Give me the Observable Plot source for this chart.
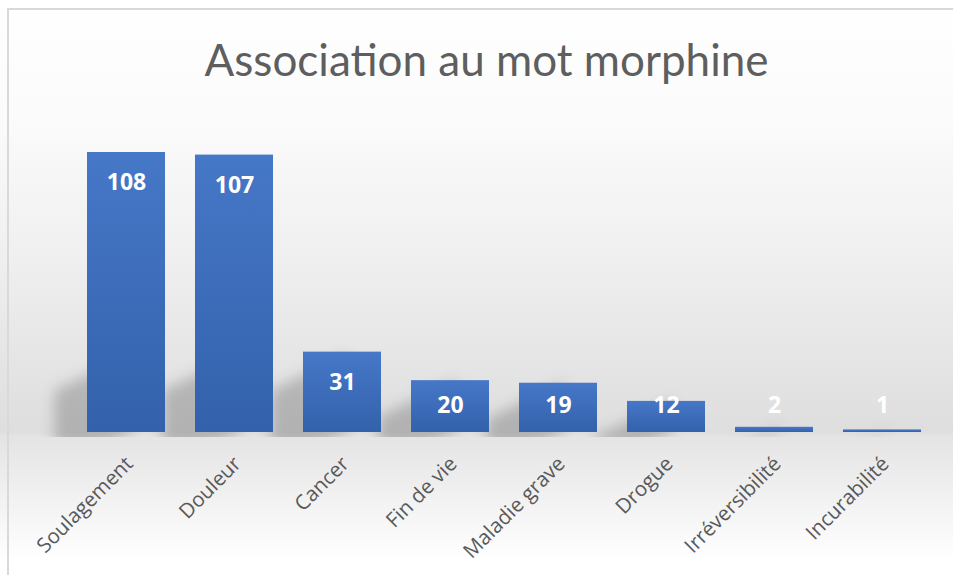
<!DOCTYPE html>
<html>
<head>
<meta charset="utf-8">
<script src="https://cdn.jsdelivr.net/npm/d3@7"></script>
<script src="https://cdn.jsdelivr.net/npm/@observablehq/plot@0.6"></script>
<style>
  html, body { margin: 0; padding: 0; background: #fff; }
  #wrap {
    position: relative; width: 953px; height: 575px; overflow: hidden;
    background: linear-gradient(to bottom, #ffffff 0px, #fbfbfb 120px, #f0f0f0 250px, #e3e3e3 380px, #dedede 432px, #e4e4e4 436px, #f2f2f2 500px, #ffffff 560px);
  }
  .bt { position: absolute; left: 7px; top: 8px; width: 946px; height: 2px; background: #d9d9d9; }
  .bl { position: absolute; left: 7px; top: 8px; width: 2px; height: 567px; background: #d9d9d9; }
  #title {
    position: absolute; left: 10px; width: 953px; top: 33px; text-align: center;
    font-family: Lato, "Open Sans", sans-serif; font-size: 44px; line-height: 52px;
    color: #5e5e5e; font-weight: 400; white-space: nowrap;
  }
  #chart { position: absolute; left: 0; top: 0; }
</style>
</head>
<body>
<div id="wrap">
  <div class="bt"></div>
  <div class="bl"></div>
  <div id="chart"></div>
  <div id="title">Association au mot morphine</div>
</div>
<script>
const categories = ["Soulagement", "Douleur", "Cancer", "Fin de vie", "Maladie grave", "Drogue", "Irréversibilité", "Incurabilité"];
const counts = [108, 107, 31, 20, 19, 12, 2, 1];

const data = categories.map((c, i) => ({category: c, value: counts[i]}));

const chart = Plot.plot({
  width: 953,
  height: 575,
  marginLeft: 70,
  marginRight: 15.5,
  marginTop: 152,
  marginBottom: 143,
  style: {background: "transparent", overflow: "visible"},
  x: {domain: categories, paddingInner: 0.28, paddingOuter: 0.14, axis: null},
  y: {domain: [0, 108], axis: null},
  marks: [
    // soft cast shadows behind the bars (first bar mark)
    Plot.barY(data, {
      x: "category",
      y1: 0,
      y2: d => Math.min(d.value, 30),
      fill: "#000000",
      fillOpacity: 0.2
    }),
    Plot.barY(data, {
      x: "category",
      y: "value",
      fill: "url(#barGrad)"
    }),
    Plot.text(data, {
      x: "category",
      y: d => Math.max(d.value, 22),
      text: d => String(d.value),
      dy: 30.5,
      fill: "#ffffff",
      fontSize: 23,
      fontWeight: "bold",
      fontFamily: "'Open Sans', sans-serif"
    }),
    Plot.text(data, {
      x: "category",
      y: 0,
      text: "category",
      rotate: -45,
      textAnchor: "end",
      dx: 3,
      dy: 28,
      fill: "#595959",
      fontSize: 20.5,
      fontFamily: "'Open Sans', sans-serif"
    })
  ]
});

document.getElementById("chart").appendChild(chart);

const svg = d3.select(chart);
const defs = svg.insert("defs", ":first-child");
const g = defs.append("linearGradient").attr("id", "barGrad").attr("x1", 0).attr("y1", 0).attr("x2", 0).attr("y2", 1);
g.append("stop").attr("offset", "0%").attr("stop-color", "#4678c8");
g.append("stop").attr("offset", "100%").attr("stop-color", "#3361ab");
const f = defs.append("filter").attr("id", "shadowBlur")
  .attr("filterUnits", "userSpaceOnUse").attr("x", 0).attr("y", 0).attr("width", 953).attr("height", 575);
f.append("feGaussianBlur").attr("stdDeviation", 7);

const barGroups = chart.querySelectorAll('g[aria-label="bar"]');
const shadowG = d3.select(barGroups[0]);
let baseY = 0;
shadowG.selectAll("rect").each(function() {
  const r = d3.select(this);
  const x = +r.attr("x"), y = +r.attr("y"), h = +r.attr("height"), w = +r.attr("width");
  const by = y + h, ox = x + w;
  baseY = by;
  r.attr("transform", `translate(${-w * 0.42},0) translate(${ox},${by}) skewY(-25) translate(${-ox},${-by})`);
});
defs.append("clipPath").attr("id", "shadowClip")
  .append("rect").attr("x", 0).attr("y", 0).attr("width", 953).attr("height", baseY + 5);
const outer = svg.insert("g", () => barGroups[0]).attr("clip-path", "url(#shadowClip)");
outer.node().appendChild(barGroups[0]);
shadowG.attr("filter", "url(#shadowBlur)");
</script>
</body>
</html>
